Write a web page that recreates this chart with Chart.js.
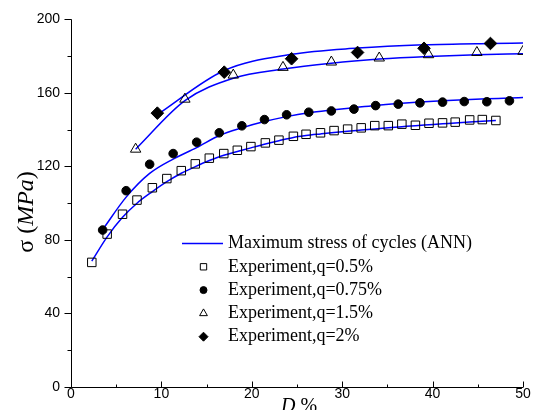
<!DOCTYPE html>
<html><head><meta charset="utf-8">
<script src="https://cdn.jsdelivr.net/npm/chart.js@4/dist/chart.umd.min.js"></script>
<style>html,body{margin:0;padding:0;background:#fff}</style>
</head><body>
<canvas id="c" width="534" height="410"></canvas>
<script>
const xTicks = [0, 10, 20, 30, 40, 50];
const yTicks = [0, 40, 80, 120, 160, 200];

const legendLabels = ['Maximum stress of cycles (ANN)', 'Experiment,q=0.5%', 'Experiment,q=0.75%', 'Experiment,q=1.5%', 'Experiment,q=2%'];

const sqX = [2.3,4.0,5.7,7.3,9.0,10.6,12.2,13.75,15.3,16.9,18.4,19.9,21.5,23.0,24.6,26.0,27.6,29.1,30.6,32.1,33.6,35.1,36.6,38.1,39.6,41.1,42.5,44.1,45.5,47.0];
const sqY = [67.8,83.2,94.0,101.7,108.4,113.4,117.7,121.4,124.5,127.0,128.8,130.8,132.8,134.3,136.4,137.5,138.3,139.5,140.3,141.0,142.2,142.2,143.0,142.4,143.5,143.7,144.1,145.3,145.5,145.0];
const sqAnnY = [68.5,81.7,92.3,100.0,106.3,111.7,116.3,119.9,123.2,126.1,128.1,130.1,132.2,134.0,135.8,136.8,137.7,138.5,139.2,139.8,140.4,141.0,141.6,142.2,142.7,143.2,143.7,144.2,144.6,145.0];

const ciX = [3.5,6.1,8.7,11.3,13.9,16.4,18.9,21.4,23.85,26.3,28.8,31.3,33.7,36.2,38.6,41.1,43.5,46.0,48.5];
const ciY = [85.4,106.8,121.2,127.0,133.2,138.3,142.1,145.5,148.1,149.5,150.2,151.2,153.1,153.9,154.6,155.0,155.3,155.2,155.7];
const ciAnnX = [3.5,6.1,8.7,11.3,13.9,16.4,18.9,21.4,23.85,26.3,28.8,31.3,33.7,36.2,38.6,41.1,43.5,46.0,48.5,50];
const ciAnnY = [85.6,103.3,116.2,124.0,130.2,136.8,141.0,144.4,147.1,149.2,150.7,152.0,153.2,154.2,155.0,155.7,156.3,156.8,157.2,157.5];

const trX = [7.15,12.6,17.95,23.45,28.8,34.1,39.55,44.9,50.0];
const trY = [129.4,156.6,169.7,173.9,176.8,179.0,180.8,182.0,182.6];
const trAnnY = [129.4,155.8,168.0,173.0,176.2,178.4,179.8,180.7,181.3];

const diX = [9.55,16.95,24.4,31.7,39.05,46.4];
const diY = [149.0,171.3,178.6,182.0,184.3,186.9];
const diAnnX = [9.55,16.95,24.4,31.7,39.05,46.4,50];
const diAnnY = [148.2,172.2,181.0,184.4,186.2,186.9,187.1];

const pts = (xs, ys) => xs.map((x, i) => ({x: x, y: ys[i]}));
const BLUE = '#0000ff';

function annLine(xs, ys) {
  return { type: 'scatter', showLine: true, data: pts(xs, ys), borderColor: BLUE, borderWidth: 1.5,
    pointRadius: 0, pointHoverRadius: 0, cubicInterpolationMode: 'monotone', fill: false, order: 2 };
}
function expPts(xs, ys, style, radius, filled) {
  return { type: 'scatter', showLine: false, data: pts(xs, ys), pointStyle: style, pointRadius: radius,
    pointBorderColor: '#000', pointBorderWidth: 1, pointBackgroundColor: filled ? '#000' : 'rgba(0,0,0,0)', order: 1 };
}

const datasets = [
  annLine(sqX, sqAnnY), annLine(ciAnnX, ciAnnY), annLine(trX, trAnnY), annLine(diAnnX, diAnnY),
  expPts(sqX, sqY, 'rect', 6, false),
  expPts(ciX, ciY, 'circle', 4.3, true),
  expPts(trX, trY, 'triangle', 6, false),
  expPts(diX, diY, 'rectRot', 6.3, true)
];
datasets[0].label = legendLabels[0];
datasets[4].label = legendLabels[1];
datasets[5].label = legendLabels[2];
datasets[6].label = legendLabels[3];
datasets[7].label = legendLabels[4];

const decor = {
  id: 'decor',
  afterDraw(chart) {
    const ctx = chart.ctx, a = chart.chartArea;
    const xs = chart.scales.x, ys = chart.scales.y;
    ctx.save();
    ctx.strokeStyle = '#000'; ctx.lineWidth = 1;
    ctx.beginPath();
    ctx.moveTo(a.left + 0.5, a.top); ctx.lineTo(a.left + 0.5, a.bottom + 0.5);
    ctx.lineTo(a.right, a.bottom + 0.5);
    ctx.stroke();
    ctx.beginPath();
    for (let v = 0; v <= 200; v += 20) {
      const y = Math.round(ys.getPixelForValue(v)) + 0.5;
      const len = (v % 40 === 0) ? 7 : 4;
      ctx.moveTo(a.left + 0.5, y); ctx.lineTo(a.left + 0.5 - len, y);
    }
    for (let v = 0; v <= 50; v += 5) {
      const x = Math.round(xs.getPixelForValue(v)) + 0.5;
      const len = (v % 10 === 0) ? 6 : 3;
      ctx.moveTo(x, a.bottom + 0.5); ctx.lineTo(x, a.bottom + 0.5 - len);
    }
    ctx.stroke();

    // y title
    ctx.fillStyle = '#000';
    ctx.save();
    ctx.translate(33, 212);
    ctx.rotate(-Math.PI / 2);
    ctx.textBaseline = 'alphabetic';
    const parts = [['σ (', '24px "Liberation Serif"'], ['MPa', 'italic 24px "Liberation Serif"'], [')', '24px "Liberation Serif"']];
    let total = 0;
    parts.forEach(p => { ctx.font = p[1]; total += ctx.measureText(p[0]).width; });
    let cx = -total / 2;
    parts.forEach(p => { ctx.font = p[1]; ctx.fillText(p[0], cx, 0); cx += ctx.measureText(p[0]).width; });
    ctx.restore();

    // x title
    ctx.textBaseline = 'alphabetic';
    ctx.font = 'italic 20px "Liberation Serif"';
    ctx.fillText('D', 281, 412);
    const dw = ctx.measureText('D ').width;
    ctx.font = '20px "Liberation Serif"';
    ctx.fillText('%', 281 + dw, 412);

    // legend
    const lx = 182, tx = 228, y0 = 243.5, dy = 23.3;
    ctx.font = '18px "Liberation Serif"';
    ctx.textBaseline = 'middle';
    ctx.textAlign = 'left';
    ctx.strokeStyle = BLUE; ctx.lineWidth = 1.5;
    ctx.beginPath(); ctx.moveTo(lx, y0); ctx.lineTo(lx + 41, y0); ctx.stroke();
    ctx.fillText(legendLabels[0], tx, y0);
    const mk = [['rect', 4.5, false], ['circle', 3.5, true], ['triangle', 4.5, false], ['rectRot', 4.5, true]];
    mk.forEach((m, i) => {
      const y = y0 + dy * (i + 1);
      ctx.strokeStyle = '#000'; ctx.lineWidth = 1;
      ctx.fillStyle = m[2] ? '#000' : 'rgba(0,0,0,0)';
      Chart.helpers.drawPoint(ctx, { pointStyle: m[0], radius: m[1], borderWidth: 1, rotation: 0 }, 203.5, y);
      ctx.fillStyle = '#000';
      ctx.fillText(legendLabels[i + 1], tx, y);
    });
    ctx.restore();
  }
};

new Chart(document.getElementById('c'), {
  type: 'scatter',
  data: { datasets: datasets },
  options: {
    responsive: false, animation: false,
    layout: { padding: { top: 19, right: 11, left: 0, bottom: 0 } },
    plugins: { legend: { display: false }, tooltip: { enabled: false } },
    scales: {
      x: {
        type: 'linear', min: 0, max: 50,
        afterFit: s => { s.height = 23; },
        afterBuildTicks: s => { s.ticks = xTicks.map(v => ({ value: v })); },
        grid: { display: false, drawTicks: false }, border: { display: false },
        ticks: { color: '#000', padding: -1, font: { family: '"Liberation Sans", Arial', size: 14 }, maxRotation: 0 }
      },
      y: {
        type: 'linear', min: 0, max: 200,
        afterFit: s => { s.width = 71; },
        afterBuildTicks: s => { s.ticks = yTicks.map(v => ({ value: v })); },
        grid: { display: false, drawTicks: false }, border: { display: false },
        ticks: { color: '#000', padding: 11, font: { family: '"Liberation Sans", Arial', size: 14 } }
      }
    }
  },
  plugins: [decor]
});
</script>
</body></html>
